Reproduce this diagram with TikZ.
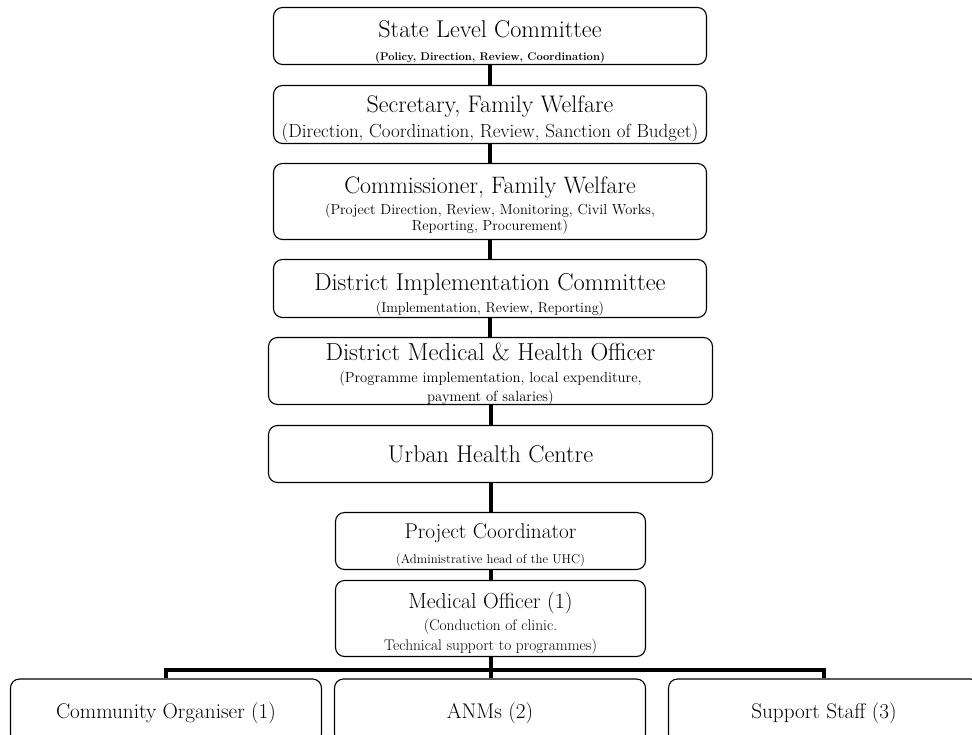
\documentclass[tikz,border=0pt]{standalone}
\usepackage{fontspec}
\usetikzlibrary{positioning}

\newcommand{\fsz}[1]{\fontsize{#1}{#1}\selectfont}

\begin{document}
\begin{tikzpicture}[x=1pt, y=-1pt,
    box/.style={rectangle, draw, line width=1.1pt, rounded corners=9pt, align=center, inner sep=0pt, text depth=0pt},
    lsk/.style={font=\fontsize{10}{#1}\selectfont},
    link/.style={line width=4pt}
  ]
    \clip (0,0) rectangle (972,734);

    % upper chain
    \node[box, lsk=23, text height=48, minimum width=433, minimum height=57] (slc) at (490,36)
      {{\fsz{24.2}State Level Committee}\\{\fsz{11.2}\bfseries (Policy, Direction, Review, Coordination)}};
    \node[box, lsk=25, text height=45, minimum width=433, minimum height=58] (sec) at (490,114.5)
      {{\fsz{24}Secretary, Family Welfare}\\{\fsz{19}(Direction, Coordination, Review, Sanction of Budget)}};
    \node[box, lsk=16, text height=57, minimum width=433, minimum height=76] (com) at (490,201.5)
      {{\fsz{23.8}Commissioner, Family Welfare}\\[5pt]{\fsz{14.5}(Project Direction, Review, Monitoring, Civil Works,}\\{\fsz{14.5}Reporting, Procurement)}};
    \node[box, lsk=22, text height=47, minimum width=433, minimum height=58] (dic) at (490,288.5)
      {{\fsz{24.4}District Implementation Committee}\\{\fsz{14.2}(Implementation, Review, Reporting)}};
    \node[box, lsk=19, text height=60, minimum width=444, minimum height=67] (dmho) at (490.5,371)
      {{\fsz{24.6}District Medical \& Health Officer}\\[3pt]{\fsz{14.7}(Programme implementation, local expenditure,}\\{\fsz{14.7}payment of salaries)}};
    \node[box, text height=16, minimum width=444, minimum height=57] (uhc) at (490.5,454)
      {\fsz{24.2}Urban Health Centre};

    % centre staff
    \node[box, lsk=25, text height=44, minimum width=310, minimum height=57] (pc) at (490.5,541)
      {{\fsz{21.3}Project Coordinator}\\{\fsz{12.8}(Administrative head of the UHC)}};
    \node[box, lsk=20, text height=63, minimum width=310, minimum height=76] (mo) at (490.5,618.5)
      {{\fsz{21.8}Medical Officer (1)}\\[2pt]{\fsz{15.4}(Conduction of clinic.}\\{\fsz{15.4}Technical support to programmes)}};

    \node[box, text height=14, minimum width=311, minimum height=64] (co) at (166,711) {\fsz{21.2}Community Organiser (1)};
    \node[box, text height=14, minimum width=311, minimum height=64] (anm) at (490,711) {\fsz{21.2}ANMs (2)};
    \node[box, text height=14, minimum width=311, minimum height=64] (ss) at (824,711) {\fsz{21.2}Support Staff (3)};

    \draw[link] (slc.south) -- (slc.south |- sec.north);
    \draw[link] (sec.south) -- (sec.south |- com.north);
    \draw[link] (com.south) -- (com.south |- dic.north);
    \draw[link] (dic.south) -- (dic.south |- dmho.north);
    \draw[link] (dmho.south) -- (dmho.south |- uhc.north);
    \draw[link] (uhc.south) -- (uhc.south |- pc.north);
    \draw[link] (pc.south) -- (pc.south |- mo.north);
    \draw[link] (mo.south) -- (mo.south |- anm.north);
    \draw[link] (co.north) -- ++(0,-8) -| (ss.north);
\end{tikzpicture}
\end{document}
